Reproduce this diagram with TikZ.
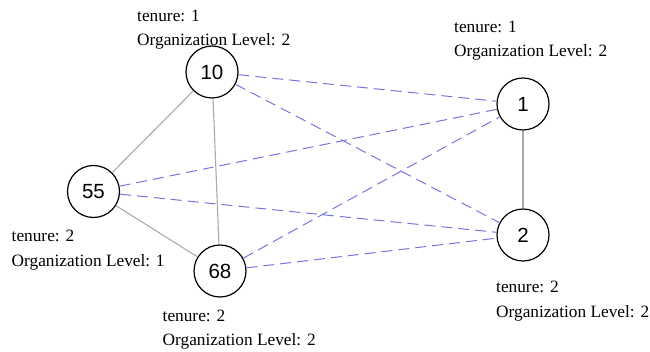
\documentclass[tikz,border=0pt]{standalone}
\usepackage{fontspec}
\setmainfont{Liberation Serif}
\newfontfamily\numfont{Liberation Sans}
\definecolor{linkblue}{RGB}{118,118,225}
\definecolor{linkgray}{RGB}{170,170,170}
\begin{document}
\begin{tikzpicture}[x=1pt,y=-1pt,
  vertex/.style={circle,draw=black,line width=1.2pt,minimum size=52pt,inner sep=0pt,
    font=\numfont\fontsize{20.5}{24}\selectfont},
  infotext/.style={anchor=base west,inner sep=0pt,font=\fontsize{17.3}{20}\selectfont},
  solidlink/.style={draw=linkgray,line width=1.1pt},
  dashlink/.style={draw=linkblue,line width=1pt,dash pattern=on 11pt off 6pt}]
\useasboundingbox (0,0) rectangle (650,352);

% people
\node[vertex] (n10) at (212,72) {10};
\node[vertex] (n1)  at (523,104) {1};
\node[vertex] (n55) at (93.5,191.5) {55};
\node[vertex] (n68) at (220,271) {68};
\node[vertex] (n2)  at (523,235) {2};

% attribute labels
\node[infotext] (t10) at (137,22) {tenure: 1};
\node[infotext] (o10) at (137,46) {Organization Level: 2};
\node[infotext] (t1)  at (454,33) {tenure: 1};
\node[infotext] (o1)  at (454,57) {Organization Level: 2};
\node[infotext] (t55) at (11.5,242) {tenure: 2};
\node[infotext] (o55) at (11.5,267) {Organization Level: 1};
\node[infotext] (t68) at (162.5,321) {tenure: 2};
\node[infotext] (o68) at (162.5,345) {Organization Level: 2};
\node[infotext] (t2)  at (496,293) {tenure: 2};
\node[infotext] (o2)  at (496,318) {Organization Level: 2};

% same-group links
\draw[solidlink] (n10) -- (n55);
\draw[solidlink] (n10) -- (n68);
\draw[solidlink] (n55) -- (n68);
\draw[solidlink] (n1) -- (n2);

% cross-group links
\draw[dashlink] (n10) -- (n1);
\draw[dashlink] (n10) -- (n2);
\draw[dashlink] (n55) -- (n1);
\draw[dashlink] (n55) -- (n2);
\draw[dashlink] (n68) -- (n1);
\draw[dashlink] (n68) -- (n2);
\end{tikzpicture}
\end{document}
